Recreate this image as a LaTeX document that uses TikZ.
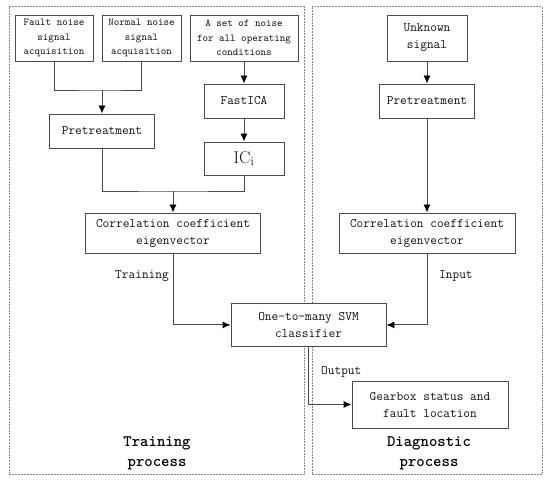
\documentclass[tikz,border=0pt]{standalone}
\usetikzlibrary{arrows.meta}
\definecolor{boxc}{HTML}{4A4A4A}
\definecolor{dashc}{HTML}{8A8A8A}
\definecolor{txt}{HTML}{111111}
\begin{document}
\begin{tikzpicture}[x=1pt,y=-1pt,
  box/.style={draw=boxc,fill=white,line width=0.9pt,rectangle,inner sep=0pt,align=center,text=txt,
    font=\fontsize{13}{17}\selectfont\ttfamily},
  smallbox/.style={box,font=\fontsize{10.5}{14.5}\selectfont\ttfamily},
  conn/.style={draw=boxc,line width=0.9pt},
  arr/.style={conn,-{Latex[length=8pt,width=7pt,color=black]}},
  lbl/.style={text=txt,inner sep=0pt,font=\fontsize{13}{17}\selectfont\ttfamily},
  title/.style={text=black,inner sep=0pt,align=center,font=\fontsize{16}{20}\selectfont\ttfamily\bfseries},
  dashbox/.style={draw=dashc,line width=1pt,dash pattern=on 2pt off 1pt}]
\useasboundingbox (0,0) rectangle (550,484);
\fill[white] (0,0) rectangle (550,484);
% process frames
\draw[dashbox] (9,7) rectangle (304,475);
\draw[dashbox] (312,7) rectangle (542,475);
% training side
\node[smallbox,minimum width=78pt,minimum height=46pt] (fault) at (54,38) {Fault noise\\signal\\acquisition};
\node[smallbox,minimum width=79pt,minimum height=46pt] (normal) at (141.5,38) {Normal noise\\signal\\acquisition};
\node[smallbox,minimum width=108pt,minimum height=46pt] (setnoise) at (244,38) {A set of noise\\for all operating\\conditions};
\node[box,minimum width=105pt,minimum height=34pt] (pre1) at (102,131) {Pretreatment};
\node[box,minimum width=80pt,minimum height=34pt] (fastica) at (244,101) {FastICA};
\node[box,minimum width=80pt,minimum height=33pt,font=\fontsize{17}{20}\selectfont] (ic) at (244,158.5) {IC$_\mathrm{i}$};
\node[box,minimum width=175pt,minimum height=40pt] (corr1) at (173,233) {Correlation coefficient\\eigenvector};
% diagnostic side
\node[box,minimum width=80pt,minimum height=46pt] (unknown) at (427,38) {Unknown\\signal};
\node[box,minimum width=95pt,minimum height=34pt] (pre2) at (427,101) {Pretreatment};
\node[box,minimum width=176pt,minimum height=40pt] (corr2) at (427,233) {Correlation coefficient\\eigenvector};
\node[box,minimum width=156pt,minimum height=47pt] (gear) at (430,404.5) {Gearbox status and\\fault location};
% junctions
\coordinate (j1) at (102,90);
\coordinate (j2) at (173,191);
\coordinate (svmtop) at (308.5,303);
% connectors
\draw[conn] (fault.south) |- (j1) -| (normal.south);
\draw[arr] (j1) -- (pre1.north);
\draw[arr] (setnoise.south) -- (fastica.north);
\draw[arr] (fastica.south) -- (ic.north);
\draw[conn] (pre1.south) |- (j2) -| (ic.south);
\draw[arr] (j2) -- (corr1.north);
\draw[arr] (unknown.south) -- (pre2.north);
\draw[arr] (pre2.south) -- (corr2.north);
% classifier (drawn over the frames)
\node[box,minimum width=155pt,minimum height=43pt] (svm) at (svmtop) [anchor=north] {One-to-many SVM\\classifier};
\draw[arr] (corr1.south) |- (svm.west);
\draw[arr] (corr2.south) |- (svm.east);
\draw[arr] (svm.south) |- (gear.west);
% labels
\node[lbl,anchor=base east] (ltrain) at (169,279) {Training};
\node[lbl,anchor=base west] (linput) at (439,279) {Input};
\node[lbl,anchor=base west] (loutput) at (321,374) {Output};
\node[title] (ttrain) at (157,453) {Training\\process};
\node[title] (tdiag) at (429,453) {Diagnostic\\process};
\end{tikzpicture}
\end{document}
